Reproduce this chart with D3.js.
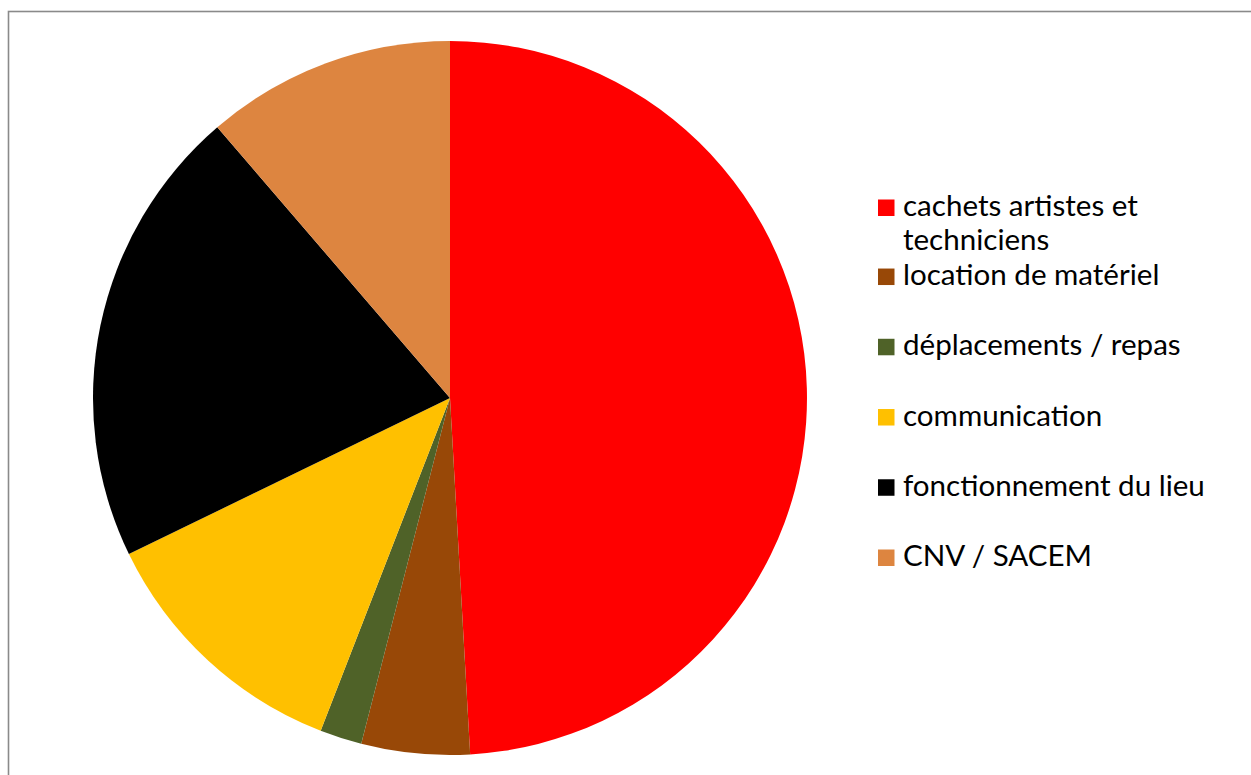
<!DOCTYPE html>
<html>
<head>
<meta charset="utf-8">
<script src="https://cdn.jsdelivr.net/npm/d3@7"></script>
<style>
html,body{margin:0;padding:0;background:#fff;overflow:hidden;}
svg{display:block;}
</style>
</head>
<body>
<svg id="chart" width="1251" height="775"></svg>
<script>
const categories = ["cachets artistes et techniciens", "location de matériel", "déplacements / repas", "communication", "fonctionnement du lieu", "CNV / SACEM"];
const legendLines = [["cachets artistes et", "techniciens"], ["location de matériel"], ["déplacements / repas"], ["communication"], ["fonctionnement du lieu"], ["CNV / SACEM"]];
const values = [49.1, 4.9, 1.9, 11.9, 20.9, 11.3];
const colors = ["#FF0000", "#984807", "#4F6228", "#FFC000", "#000000", "#DD8540"];

const svg = d3.select("#chart");
svg.append("rect").attr("x", 8.5).attr("y", 11.5).attr("width", 1400).attr("height", 1000)
  .attr("fill", "#fff").attr("stroke", "#8a8a8a").attr("stroke-width", 1.6);

const cx = 450, cy = 398, r = 357;
const pie = d3.pie().sort(null).value(d => d)(values);
const arc = d3.arc().innerRadius(0).outerRadius(r);
const color = d3.scaleOrdinal().domain(categories).range(colors);

svg.append("g").attr("transform", `translate(${cx},${cy})`)
  .selectAll("path").data(pie).join("path")
  .attr("d", arc)
  .attr("fill", (d, i) => color(categories[i]));

const legendY = d3.scalePoint().domain(categories).range([285 - 70.2, 566]);
const lg = svg.append("g").attr("font-family", "Lato, 'Open Sans', sans-serif").attr("font-size", 26).attr("fill", "#000");
categories.forEach((c, i) => {
  const base = i === 0 ? 216 : legendY(c);
  lg.append("rect").attr("x", 878).attr("y", base - 16.5).attr("width", 16.5).attr("height", 16.5).attr("fill", color(c));
  legendLines[i].forEach((t, j) => {
    lg.append("text").attr("x", 903).attr("y", base + j * 34).text(t);
  });
});
// match target width of longest label
const texts = lg.selectAll("text").nodes();
const longest = texts.find(n => n.textContent === "fonctionnement du lieu");
const w = longest.getComputedTextLength();
const s = 302 / w;
lg.attr("font-size", 26 * Math.min(1.15, Math.max(0.85, s)));
</script>
</body>
</html>
